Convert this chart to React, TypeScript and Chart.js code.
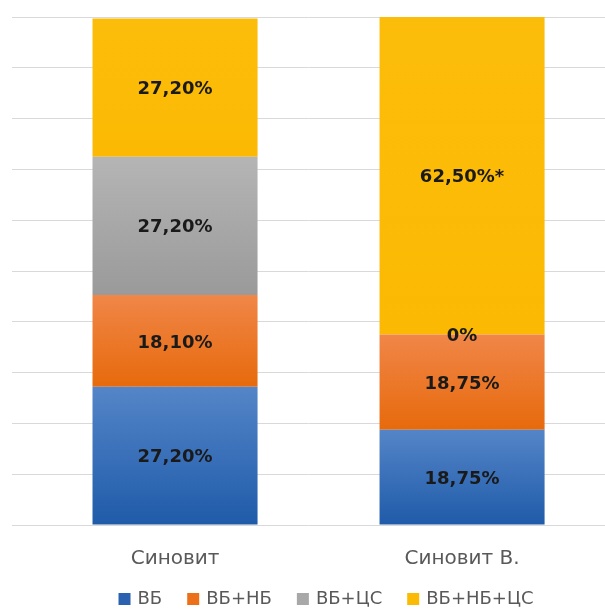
import React, { useEffect, useRef } from "react";
import { Chart, registerables } from "chart.js";

Chart.register(...registerables);

const categories = ["Синовит", "Синовит В."];
const seriesNames = ["ВБ", "ВБ+НБ", "ВБ+ЦС", "ВБ+НБ+ЦС"];
const vb = [27.2, 18.75];
const vbNb = [18.1, 18.75];
const vbCs = [27.2, 0];
const vbNbCs = [27.2, 62.5];
const marks = [
  ["", ""],
  ["", ""],
  ["", ""],
  ["", "*"],
];
const yTicksMax = 100;
const yStep = 10;

const solid = ["#2b62b0", "#ec6f1a", "#a8a8a8", "#fbbb05"];
const gradTop = ["#5485c8", "#f08648", "#b5b5b5", "#fcbd0a"];
const gradBottom = ["#1f5ba9", "#e76a0c", "#9a9a9a", "#fbb903"];

const seriesValues = [vb, vbNb, vbCs, vbNbCs];

function fmt(v: number, mark: string) {
  if (v === 0) return "0%" + mark;
  return v.toFixed(2).replace(".", ",") + "%" + mark;
}

const labelPlugin = {
  id: "segLabels",
  afterDatasetsDraw(chart: any) {
    const ctx = chart.ctx;
    ctx.save();
    ctx.font = "bold 18px 'DejaVu Sans'";
    ctx.fillStyle = "#1a1a1a";
    ctx.textAlign = "center";
    ctx.textBaseline = "middle";
    chart.data.datasets.forEach((ds: any, di: number) => {
      const meta = chart.getDatasetMeta(di);
      meta.data.forEach((el: any, i: number) => {
        const v = seriesValues[di][i];
        const y = (el.y + el.base) / 2;
        ctx.fillText(fmt(v, marks[di][i]), el.x, y + 2);
      });
    });
    ctx.restore();
  },
};

const legendCenterX = 326;
const legendY = 599;
const legendPlugin = {
  id: "customLegend",
  afterDraw(chart: any) {
    const ctx = chart.ctx;
    ctx.save();
    ctx.font = "18px 'DejaVu Sans'";
    ctx.textBaseline = "middle";
    ctx.textAlign = "left";
    const box = 12;
    const gapText = 7;
    const gapItem = 25;
    const items = chart.data.datasets.map((ds: any, i: number) => ({
      text: ds.label,
      color: solid[i],
      w: box + gapText + ctx.measureText(ds.label).width,
    }));
    const total = items.reduce((s: number, it: any) => s + it.w, 0) + gapItem * (items.length - 1);
    let x = legendCenterX - total / 2;
    items.forEach((it: any) => {
      ctx.fillStyle = it.color;
      ctx.fillRect(x, legendY - box / 2, box, box);
      ctx.fillStyle = "#595959";
      ctx.fillText(it.text, x + box + gapText, legendY);
      x += it.w + gapItem;
    });
    ctx.restore();
  },
};

export default function App() {
  const ref = useRef<HTMLCanvasElement | null>(null);
  useEffect(() => {
    if (!ref.current) return;
    const datasets = seriesValues.map((vals, di) => ({
      label: seriesNames[di],
      data: vals.map((v, i) => ({ x: i, y: v })),
      backgroundColor: (c: any) => {
        const chart = c.chart;
        const ys = chart.scales && chart.scales.y;
        if (c.type !== "data" || !ys || !isFinite(ys.top)) return solid[di];
        const i = c.dataIndex;
        let bottom = 0;
        for (let k = 0; k < di; k++) bottom += seriesValues[k][i];
        const top = bottom + seriesValues[di][i];
        const p0 = ys.getPixelForValue(top);
        const p1 = ys.getPixelForValue(bottom);
        if (!isFinite(p0) || !isFinite(p1) || p0 === p1) return solid[di];
        const g = chart.ctx.createLinearGradient(0, p0, 0, p1);
        g.addColorStop(0, gradTop[di]);
        g.addColorStop(1, gradBottom[di]);
        return g;
      },
      borderWidth: 0,
      barPercentage: 1,
      categoryPercentage: 0.575,
    }));
    const chart = new Chart(ref.current, {
      type: "bar",
      data: { datasets },
      options: {
        animation: false,
        responsive: false,
        layout: { padding: { left: 12, right: 0, top: 17, bottom: 16 } },
        scales: {
          x: {
            type: "linear",
            stacked: true,
            offset: false,
            min: -0.568,
            max: 1.498,
            afterBuildTicks: (axis: any) => {
              axis.ticks = categories.map((_, i) => ({ value: i }));
            },
            ticks: {
              callback: (v: any) => categories[v] ?? "",
              font: { family: "'DejaVu Sans'", size: 20 },
              color: "#595959",
              padding: 22,
              maxRotation: 0,
              autoSkip: false,
            },
            grid: { display: false, drawTicks: false, offset: false },
            border: { display: false },
          },
          y: {
            stacked: true,
            min: 0,
            max: yTicksMax,
            ticks: { display: false, stepSize: yStep },
            grid: { color: "#d9d9d9", lineWidth: 1, drawTicks: false },
            border: { display: false },
          },
        },
        plugins: {
          legend: { display: false },
          tooltip: { enabled: false },
        },
      },
      plugins: [labelPlugin, legendPlugin],
    });
    return () => chart.destroy();
  }, []);
  return (
    <div style={{ position: "fixed", left: 0, top: 0, width: 605, height: 609, background: "#fff" }}>
      <canvas ref={ref} width={605} height={609} style={{ display: "block" }} />
    </div>
  );
}
